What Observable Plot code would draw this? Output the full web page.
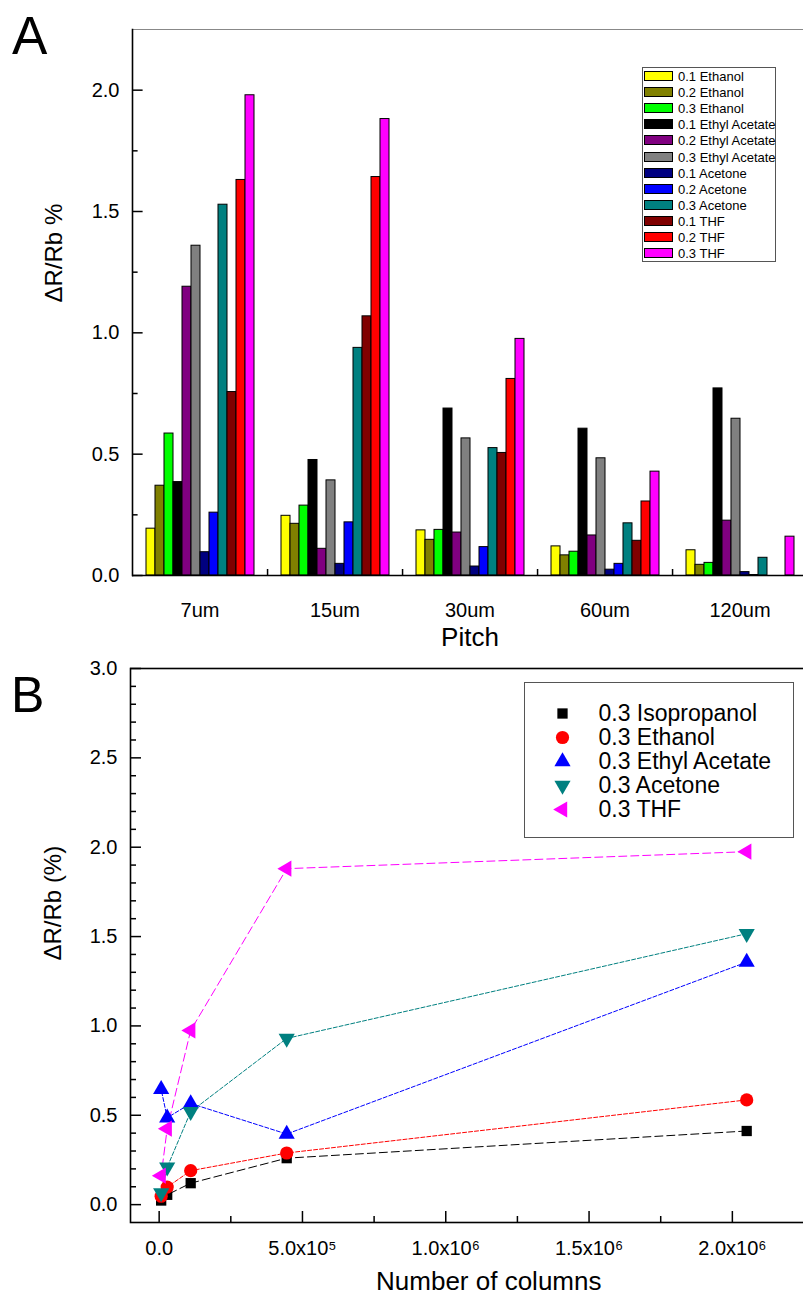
<!DOCTYPE html>
<html>
<head>
<meta charset="utf-8">
<script src="https://cdn.jsdelivr.net/npm/d3@7"></script>
<script src="https://cdn.jsdelivr.net/npm/@observablehq/plot@0.6"></script>
<style>
  html, body { margin: 0; padding: 0; background: #fff; overflow: hidden; }
  #fig { position: relative; width: 803px; height: 1299px; overflow: hidden;
         font-family: "Liberation Sans", Arial, sans-serif; color: #000; }
  .panel { position: absolute; left: 0; max-width: none !important; }
  .tag { position: absolute; line-height: 1; }
  .legA { position: absolute; left: 642px; top: 67px; width: 134px; height: 195px;
          border: 1px solid #555; background: #fff; box-sizing: border-box; }
  .legA .row { position: absolute; left: 1px; height: 12px; font-size: 13px; line-height: 12px; white-space: nowrap; }
  .legA .sw { position: absolute; left: 0; top: 0; width: 29px; height: 10px; border: 1px solid #000; box-sizing: border-box; }
  .legA .lb { position: absolute; left: 34px; top: 0; }
  .legB { position: absolute; left: 524px; top: 682px; width: 270px; height: 156px;
          border: 1px solid #555; background: #fff; box-sizing: border-box; }
</style>
</head>
<body>
<div id="fig"></div>
<script>
const FONT = '"Liberation Sans", Arial, sans-serif';

// ---- Panel A: response by pitch ----
const pitches = ["7um", "15um", "30um", "60um", "120um"];
const seriesNames = [
  "0.1 Ethanol", "0.2 Ethanol", "0.3 Ethanol",
  "0.1 Ethyl Acetate", "0.2 Ethyl Acetate", "0.3 Ethyl Acetate",
  "0.1 Acetone", "0.2 Acetone", "0.3 Acetone",
  "0.1 THF", "0.2 THF", "0.3 THF"
];
const seriesColors = [
  "#ffff00", "#808000", "#00ff00",
  "#000000", "#800080", "#808080",
  "#000080", "#0000ff", "#008080",
  "#800000", "#ff0000", "#ff00ff"
];
// values listed in pitch order: 7um, 15um, 30um, 60um, 120um
const ethanol01 = [0.193, 0.246, 0.186, 0.120, 0.104];
const ethanol02 = [0.370, 0.213, 0.147, 0.083, 0.044];
const ethanol03 = [0.585, 0.288, 0.188, 0.098, 0.052];
const ethylAcetate01 = [0.385, 0.476, 0.688, 0.605, 0.771];
const ethylAcetate02 = [1.190, 0.110, 0.177, 0.165, 0.226];
const ethylAcetate03 = [1.359, 0.392, 0.565, 0.483, 0.646];
const acetone01 = [0.096, 0.048, 0.037, 0.024, 0.014];
const acetone02 = [0.259, 0.219, 0.117, 0.048, 0.002];
const acetone03 = [1.528, 0.938, 0.525, 0.215, 0.073];
const thf01 = [0.756, 1.068, 0.505, 0.143, 0];
const thf02 = [1.630, 1.642, 0.810, 0.305, 0];
const thf03 = [1.979, 1.881, 0.975, 0.428, 0.160];
const seriesValues = [
  ethanol01, ethanol02, ethanol03,
  ethylAcetate01, ethylAcetate02, ethylAcetate03,
  acetone01, acetone02, acetone03,
  thf01, thf02, thf03
];
const yTicksA = [0, 0.5, 1.0, 1.5, 2.0];
const yMinorA = [0.25, 0.75, 1.25, 1.75];

// ---- Panel B: 0.3 concentration vs number of columns ----
const columns = [2.05e6, 4.45e5, 1.1e5, 2.8e4, 7e3];
const namesB = ["0.3 Isopropanol", "0.3 Ethanol", "0.3 Ethyl Acetate", "0.3 Acetone", "0.3 THF"];
const colorsB = ["#000000", "#ff0000", "#0000ff", "#008080", "#ff00ff"];
const dashesB = ["8,4", "4,2", "4,2", "4,2", "8,4"];
const isopropanolB = [0.412, 0.260, 0.120, 0.055, 0.023];
const ethanolB = [0.586, 0.289, 0.190, 0.098, 0.047];
const ethylAcetateB = [1.357, 0.395, 0.566, 0.486, 0.645];
const acetoneB = [1.516, 0.930, 0.520, 0.209, 0.065];
const thfB = [1.975, 1.880, 0.975, 0.425, 0.162];
const valuesB = [isopropanolB, ethanolB, ethylAcetateB, acetoneB, thfB];
const xTicksB = [0, 5e5, 1e6, 1.5e6, 2e6];
const xMinorB = [2.5e5, 7.5e5, 1.25e6, 1.75e6, 2.25e6];
const yTicksB = [0, 0.5, 1.0, 1.5, 2.0, 2.5, 3.0];
const yMinorB = d3.range(1, 30).filter(k => k % 5 !== 0).map(k => k / 10);

// marker shapes (triangle variants follow d3.symbolTriangle geometry)
const sqrt3 = Math.sqrt(3);
const triangleDown = {
  draw(context, size) {
    const y = -Math.sqrt(size / (sqrt3 * 3));
    context.moveTo(0, -y * 2);
    context.lineTo(-sqrt3 * y, y);
    context.lineTo(sqrt3 * y, y);
    context.closePath();
  }
};
const triangleLeft = {
  draw(context, size) {
    const y = -Math.sqrt(size / (sqrt3 * 3));
    context.moveTo(y * 2, 0);
    context.lineTo(-y, -sqrt3 * y);
    context.lineTo(-y, sqrt3 * y);
    context.closePath();
  }
};
const symbolsB = ["square", "circle", "triangle", triangleDown, triangleLeft];
const radiiB = [5.8, 6.6, 6.0, 6.0, 6.0];

const fig = document.getElementById("fig");
const baseStyle = {fontFamily: FONT, background: "transparent", color: "#000", overflow: "visible", maxWidth: "none"};

// ---------- Panel A ----------
const barData = [];
seriesNames.forEach((name, i) => {
  pitches.forEach((p, j) => barData.push({pitch: p, series: name, value: seriesValues[i][j]}));
});

const A = {width: 830, height: 650, left: 131, right: 22, top: 29, bottom: 75, groupInset: 13};
const facetWidthA = (A.width - A.left - A.right) / pitches.length;
const frameHeightA = A.height - A.top - A.bottom;
const barWidthA = (facetWidthA - 2 * A.groupInset) / seriesNames.length;

const plotA = Plot.plot({
  width: A.width, height: A.height,
  marginLeft: A.left, marginRight: A.right, marginTop: A.top, marginBottom: A.bottom,
  style: baseStyle,
  fx: {domain: pitches, padding: 0},
  x: {domain: seriesNames, padding: 0, inset: A.groupInset, axis: null},
  y: {domain: [0, 2.25]},
  color: {domain: seriesNames, range: seriesColors},
  marks: [
    Plot.ruleY([2.25], {stroke: "#888", strokeWidth: 1}),
    Plot.barY(barData, {fx: "pitch", x: "series", y: "value", fill: "series", stroke: "#000", strokeWidth: 1}),
    Plot.ruleY([0], {stroke: "#000", strokeWidth: 1.6}),
    Plot.frame({anchor: "left", facetAnchor: "left", stroke: "#000", strokeWidth: 1.6}),
    // inward ticks on the value axis
    Plot.ruleY(yTicksA, {facetAnchor: "left", insetRight: facetWidthA - 11, stroke: "#000", strokeWidth: 1.5}),
    Plot.ruleY(yMinorA, {facetAnchor: "left", insetRight: facetWidthA - 6, stroke: "#000", strokeWidth: 1.5}),
    Plot.axisY({ticks: yTicksA, tickSize: 0, tickPadding: 13, tickFormat: d3.format(".1f"), fontSize: 20, label: null}),
    // small ticks separating pitch groups
    Plot.ruleX([seriesNames[seriesNames.length - 1]], {x: d => d, dx: barWidthA / 2 + A.groupInset, insetTop: frameHeightA - 6, stroke: "#000", strokeWidth: 1.5}),
    Plot.axisFx({anchor: "bottom", tickSize: 0, tickPadding: 27, fontSize: 20, label: null}),
    Plot.axisFx({anchor: "bottom", ticks: [], tickSize: 0, fontSize: 26, label: "Pitch", labelAnchor: "center", labelOffset: 70}),
    Plot.text(["ΔR/Rb %"], {frameAnchor: "left", facetAnchor: "left", dx: -78, rotate: -90, fontSize: 24, fill: "#000"})
  ]
});
plotA.classList.add("panel");
plotA.style.top = "0px";
fig.appendChild(plotA);

// ---------- Panel B ----------
const lineData = valuesB.map(vals => columns.map((c, j) => ({x: c, y: vals[j]})));
const supDigits = {"0": "⁰", "1": "¹", "2": "²", "3": "³", "4": "⁴", "5": "⁵", "6": "⁶", "7": "⁷", "8": "⁸", "9": "⁹"};
const sciFormat = d => {
  if (d === 0) return "0.0";
  const e = Math.floor(Math.log10(d));
  return `${(d / 10 ** e).toFixed(1)}x10${String(e).split("").map(c => supDigits[c]).join("")}`;
};

const B = {width: 860, height: 649, left: 130, right: 13.5, top: 18, bottom: 77};
const frameWidthB = B.width - B.left - B.right;
const frameHeightB = B.height - B.top - B.bottom;

const plotB = Plot.plot({
  width: B.width, height: B.height,
  marginLeft: B.left, marginRight: B.right, marginTop: B.top, marginBottom: B.bottom,
  style: baseStyle,
  x: {domain: [-1e5, 2.4e6]},
  y: {domain: [-0.1, 3.0]},
  marks: [
    Plot.frame({stroke: "#000", strokeWidth: 1.6}),
    Plot.ruleY(yTicksB, {insetRight: frameWidthB - 11, stroke: "#000", strokeWidth: 1.5}),
    Plot.ruleY(yMinorB, {insetRight: frameWidthB - 6, stroke: "#000", strokeWidth: 1.5}),
    Plot.ruleX(xTicksB, {insetTop: frameHeightB - 11, stroke: "#000", strokeWidth: 1.5}),
    Plot.ruleX(xMinorB, {insetTop: frameHeightB - 6, stroke: "#000", strokeWidth: 1.5}),
    Plot.axisY({ticks: yTicksB, tickSize: 0, tickPadding: 13, tickFormat: d3.format(".1f"), fontSize: 20, label: null}),
    Plot.axisX({ticks: xTicksB, tickSize: 0, tickPadding: 18, tickFormat: sciFormat, fontSize: 20, label: null}),
    ...lineData.map((pts, i) => Plot.line(pts, {x: "x", y: "y", stroke: colorsB[i], strokeWidth: 1, strokeDasharray: dashesB[i]})),
    ...lineData.map((pts, i) => Plot.dot(pts, {x: "x", y: "y", symbol: symbolsB[i], r: radiiB[i], fill: colorsB[i], stroke: "none"})),
    Plot.text(["Number of columns"], {frameAnchor: "bottom", dy: 67, fontSize: 26, fill: "#000"}),
    Plot.text(["ΔR/Rb (%)"], {frameAnchor: "left", dx: -77, dy: 15, rotate: -90, fontSize: 24, fill: "#000"})
  ]
});
plotB.classList.add("panel");
plotB.style.top = "650px";
fig.appendChild(plotB);

// ---------- Legends ----------
const legA = document.createElement("div");
legA.className = "legA";
seriesNames.forEach((name, i) => {
  const row = document.createElement("div");
  row.className = "row";
  row.style.top = (3 + i * 16.1) + "px";
  const sw = document.createElement("span");
  sw.className = "sw";
  sw.style.background = seriesColors[i];
  const lb = document.createElement("span");
  lb.className = "lb";
  lb.textContent = name;
  row.appendChild(sw);
  row.appendChild(lb);
  legA.appendChild(row);
});
fig.appendChild(legA);

const legB = document.createElement("div");
legB.className = "legB";
const legBPlot = Plot.plot({
  width: 268, height: 154, margin: 0,
  style: baseStyle,
  y: {type: "point", domain: namesB, range: [16, 140], axis: null},
  marks: [
    ...namesB.map((n, i) => Plot.dot([n], {y: d => d, frameAnchor: "left", dx: 37, symbol: symbolsB[i], r: radiiB[i], fill: colorsB[i], stroke: "none"})),
    Plot.text(namesB, {y: d => d, frameAnchor: "left", dx: 73, textAnchor: "start", fontSize: 23, fill: "#000"})
  ]
});
legB.appendChild(legBPlot);
fig.appendChild(legB);

// ---------- Panel tags ----------
const tagA = document.createElement("div");
tagA.className = "tag";
tagA.textContent = "A";
tagA.style.cssText += "left:12px;top:9px;font-size:53px;";
fig.appendChild(tagA);
const tagB = document.createElement("div");
tagB.className = "tag";
tagB.textContent = "B";
tagB.style.cssText += "left:11px;top:670px;font-size:50px;";
fig.appendChild(tagB);
</script>
</body>
</html>
